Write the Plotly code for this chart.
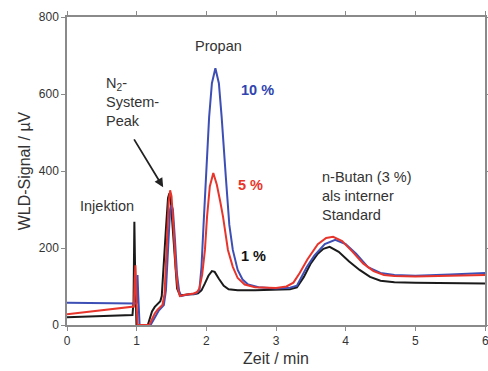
import plotly.graph_objects as go

# Black curve (1 %)
x_black = [0, 0.3, 0.6, 0.94, 0.955, 0.967, 0.977, 0.987, 0.997, 1.16, 1.19, 1.22, 1.26, 1.3, 1.34, 1.36, 1.39, 1.42, 1.45, 1.47, 1.49, 1.52, 1.55, 1.58, 1.62, 1.68, 1.75, 1.82, 1.88, 1.93, 1.98, 2.03, 2.08, 2.12, 2.18, 2.25, 2.32, 2.45, 2.7, 3.0, 3.2, 3.3, 3.4, 3.5, 3.6, 3.68, 3.77, 3.9, 4.05, 4.2, 4.35, 4.5, 4.7, 5.0, 5.5, 6.0]
y_black = [20, 22, 24, 26, 60, 268, 150, 30, 0, 0, 18, 35, 47, 55, 62, 75, 150, 250, 330, 342, 320, 240, 150, 95, 78, 78, 80, 80, 82, 90, 108, 128, 140, 138, 120, 102, 93, 90, 90, 91, 93, 98, 125, 160, 185, 198, 203, 190, 165, 143, 125, 115, 111, 110, 109, 108]

# Red curve (5 %)
x_red = [0, 0.3, 0.6, 0.94, 0.96, 0.972, 0.982, 0.992, 1.002, 1.012, 1.18, 1.22, 1.26, 1.3, 1.34, 1.37, 1.4, 1.43, 1.46, 1.48, 1.5, 1.53, 1.56, 1.59, 1.62, 1.68, 1.75, 1.82, 1.87, 1.9, 1.94, 1.98, 2.01, 2.05, 2.1, 2.15, 2.2, 2.24, 2.31, 2.38, 2.45, 2.55, 2.7, 3.0, 3.15, 3.25, 3.34, 3.45, 3.6, 3.72, 3.82, 3.95, 4.1, 4.25, 4.4, 4.55, 4.7, 5.0, 5.5, 6.0]
y_red = [28, 34, 40, 46, 48, 120, 155, 90, 10, 0, 0, 15, 30, 40, 47, 52, 80, 200, 320, 350, 335, 250, 150, 95, 75, 78, 80, 82, 86, 95, 130, 195, 281, 360, 395, 365, 320, 281, 195, 151, 122, 105, 98, 96, 100, 110, 135, 170, 210, 226, 229, 218, 190, 160, 140, 130, 127, 126, 128, 130]

# Blue curve (10 %)
x_blue = [0, 0.5, 0.96, 0.985, 1.0, 1.012, 1.022, 1.032, 1.042, 1.2, 1.24, 1.28, 1.32, 1.36, 1.39, 1.42, 1.45, 1.48, 1.5, 1.52, 1.55, 1.58, 1.61, 1.64, 1.7, 1.78, 1.85, 1.9, 1.93, 1.96, 2.0, 2.04, 2.08, 2.13, 2.18, 2.22, 2.28, 2.33, 2.38, 2.45, 2.52, 2.6, 2.75, 3.0, 3.2, 3.3, 3.44, 3.55, 3.7, 3.85, 4.0, 4.15, 4.32, 4.5, 4.7, 5.0, 5.5, 6.0]
y_blue = [58, 56, 55, 56, 58, 130, 80, 10, 0, 0, 12, 26, 38, 46, 52, 90, 210, 300, 312, 300, 220, 130, 88, 75, 78, 80, 82, 90, 150, 260, 420, 540, 628, 667, 628, 540, 384, 260, 195, 143, 118, 105, 98, 95, 97, 102, 150, 180, 210, 221, 210, 185, 150, 135, 130, 128, 131, 135]

x_ticks = [0, 1, 2, 3, 4, 5, 6]
y_ticks = [0, 200, 400, 600, 800]

FONT = "Liberation Sans, Arial, sans-serif"
TXT = "#333333"

fig = go.Figure()
fig.add_trace(go.Scatter(x=x_black, y=y_black, mode="lines", line=dict(color="#1a1a1a", width=2), showlegend=False))
fig.add_trace(go.Scatter(x=x_blue, y=y_blue, mode="lines", line=dict(color="#3d4fb5", width=2), showlegend=False))
fig.add_trace(go.Scatter(x=x_red, y=y_red, mode="lines", line=dict(color="#e8352c", width=2), showlegend=False))

axis_common = dict(showline=True, linecolor="#8a8a8a", linewidth=1.5, mirror="ticks",
                   ticks="outside", ticklen=4, tickcolor="#8a8a8a", showgrid=False, zeroline=False,
                   automargin=False, tickfont=dict(family=FONT, size=12, color=TXT))

fig.update_xaxes(range=[0, 6], tickvals=x_ticks, **axis_common,
                 title=dict(text="Zeit / min", font=dict(family=FONT, size=16, color=TXT), standoff=6))
fig.update_yaxes(range=[0, 800], tickvals=y_ticks, **axis_common,
                 title=dict(text="WLD-Signal / µV", font=dict(family=FONT, size=16, color=TXT), standoff=4))

ann = [
    dict(x=2.17, y=725, text="Propan"),
    dict(x=2.73, y=610, text="<b>10 %</b>", color="#2f44b0"),
    dict(x=2.63, y=364, text="<b>5 %</b>", color="#e8352c"),
    dict(x=2.67, y=179, text="<b>1 %</b>", color="#111111"),
    dict(x=0.53, y=579, text="N<sub>2</sub>-<br>System-<br>Peak", xanchor="left", align="left"),
    dict(x=0.16, y=310, text="Injektion", xanchor="left"),
    dict(x=3.63, y=335, text="n-Butan (3 %)<br>als interner<br>Standard", xanchor="left", align="left"),
]
annotations = []
for a in ann:
    color = a.pop("color", TXT)
    a.setdefault("xanchor", "center")
    annotations.append(dict(xref="x", yref="y", showarrow=False,
                            font=dict(family=FONT, size=14.5, color=color), **a))
annotations.append(dict(xref="x", yref="y", axref="x", ayref="y", x=1.38, y=358, ax=0.95, ay=486,
                        text="", showarrow=True, arrowhead=2, arrowsize=1, arrowwidth=1.8, arrowcolor="#222222"))
# last x tick label sits at the right edge (partly cut in the original)
annotations.append(dict(xref="x", yref="paper", x=x_ticks[-1], y=0, yshift=-7, yanchor="top",
                        text=str(x_ticks[-1]), showarrow=False, font=dict(family=FONT, size=12, color=TXT)))

fig.update_layout(width=488, height=371, margin=dict(l=67, r=3, t=17, b=46),
                  plot_bgcolor="white", paper_bgcolor="white", annotations=annotations)

fig.write_html("out.html", config={"displayModeBar": False},
               post_script="document.body.style.margin='0';document.body.style.padding='0';")
